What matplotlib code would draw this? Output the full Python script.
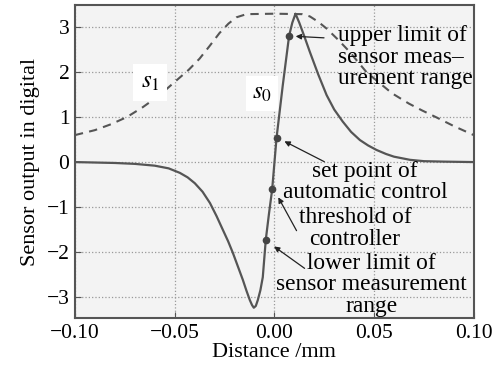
import matplotlib
matplotlib.use('Agg')
import matplotlib.pyplot as plt

plt.rcParams['font.family'] = ['Liberation Serif', 'DejaVu Serif']
plt.rcParams['mathtext.fontset'] = 'stix'

# s0 (solid) curve
s0_x = [-0.1, -0.09, -0.08, -0.07, -0.06, -0.053, -0.0474, -0.0435, -0.0399,
        -0.036, -0.0323, -0.029, -0.0258, -0.0232, -0.0208, -0.0183, -0.0158,
        -0.014, -0.0123, -0.0112, -0.0103, -0.0093, -0.0083, -0.007, -0.0058,
        -0.0043, -0.0027, -0.0011, 0.0011, 0.0042, 0.0074, 0.009, 0.0106,
        0.0125, 0.015, 0.0178, 0.022, 0.0262, 0.03, 0.0343, 0.0385, 0.0429,
        0.047, 0.0512, 0.056, 0.06, 0.068, 0.075, 0.085, 0.1]
s0_y = [0.0, -0.01, -0.02, -0.04, -0.08, -0.14, -0.24, -0.34, -0.47,
        -0.66, -0.91, -1.2, -1.51, -1.76, -2.02, -2.32, -2.62,
        -2.86, -3.07, -3.18, -3.24, -3.2, -3.07, -2.85, -2.56,
        -1.73, -1.15, -0.61, 0.54, 1.7, 2.81, 3.1, 3.30,
        3.1, 2.8, 2.45, 1.95, 1.49, 1.17, 0.9, 0.67, 0.49,
        0.37, 0.27, 0.18, 0.12, 0.05, 0.02, 0.01, 0.0]

# s1 (dashed) curve
s1_x = [-0.1, -0.09, -0.082, -0.074, -0.066, -0.0575, -0.049, -0.043, -0.0375,
        -0.0325, -0.0275, -0.023, -0.019, -0.014, 0.0, 0.014, 0.0178, 0.022,
        0.0262, 0.032, 0.0378, 0.0462, 0.053, 0.059, 0.0675, 0.074, 0.081,
        0.09, 0.1]
s1_y = [0.6, 0.71, 0.84, 1.0, 1.22, 1.49, 1.82, 2.05, 2.3,
        2.58, 2.87, 3.08, 3.22, 3.29, 3.3, 3.29, 3.24, 3.12,
        2.97, 2.72, 2.45, 2.0, 1.75, 1.53, 1.3, 1.15, 1.0,
        0.8, 0.6]

# marked points on s0
pt_x = [0.0074, 0.0011, -0.0011, -0.0043]
pt_y = [2.81, 0.54, -0.61, -1.73]
pt_labels = ['upper limit of\nsensor meas–\nurement range',
             'set point of\nautomatic control',
             'threshold of\ncontroller',
             'lower limit of\nsensor measurement\nrange']

fig = plt.figure(figsize=(4.93, 3.69), dpi=100)
ax = fig.add_axes([0.152, 0.138, 0.809, 0.848])
ax.set_facecolor('#f3f3f3')

gc = '#555555'
ax.plot(s1_x, s1_y, color=gc, lw=1.5, dashes=(4, 3))
ax.plot(s0_x, s0_y, color=gc, lw=1.6)
ax.plot(pt_x, pt_y, 'o', color='#444444', ms=4.5)

ax.text(-0.0624, 1.78, '$s_1$', fontsize=18, ha='center', va='center',
        bbox=dict(boxstyle='square,pad=0.3', fc='white', ec='none'))
ax.text(-0.0063, 1.53, '$s_0$', fontsize=18, ha='center', va='center',
        bbox=dict(boxstyle='square,pad=0.25', fc='white', ec='none'))

fs = 16.8
ls = 1.02
arr = dict(arrowstyle='-|>', color='#222222', lw=0.9, mutation_scale=8)
ax.text(0.0318, 2.33, pt_labels[0], fontsize=fs, ha='left', va='center',
        linespacing=ls)
ax.annotate('', xy=(0.0093, 2.8), xytext=(0.0263, 2.76), arrowprops=arr)
ax.text(0.0454, -0.44, pt_labels[1], fontsize=fs, ha='center', va='center',
        linespacing=ls)
ax.annotate('', xy=(0.0038, 0.49), xytext=(0.0263, -0.02), arrowprops=arr)
ax.text(0.0404, -1.48, pt_labels[2], fontsize=fs, ha='center', va='center',
        linespacing=ls)
ax.annotate('', xy=(0.0013, -0.73), xytext=(0.0118, -1.58), arrowprops=arr)
ax.text(0.0489, -2.73, pt_labels[3], fontsize=fs, ha='center', va='center',
        linespacing=ls)
ax.annotate('', xy=(-0.0013, -1.84), xytext=(0.0163, -2.4), arrowprops=arr)

ax.set_xlim(-0.1, 0.1)
ax.set_ylim(-3.47, 3.49)
ax.set_xticks([-0.1, -0.05, 0.0, 0.05, 0.1])
ax.set_xticklabels(['−0.10', '−0.05', '0.00', '0.05', '0.10'])
ax.set_yticks([-3, -2, -1, 0, 1, 2, 3])
ax.set_yticklabels(['−3', '−2', '−1', '0', '1', '2', '3'])
ax.tick_params(labelsize=15.5, direction='in', length=4, color='#555555', pad=4)
ax.grid(True, color='#999999', linestyle=':', lw=0.9)
for sp in ax.spines.values():
    sp.set_color('#555555')
    sp.set_linewidth(1.5)

ax.set_xlabel('Distance /mm', fontsize=16, labelpad=0)
ax.set_ylabel('Sensor output in digital', fontsize=16, labelpad=5)

fig.savefig('out.png', dpi=100)
